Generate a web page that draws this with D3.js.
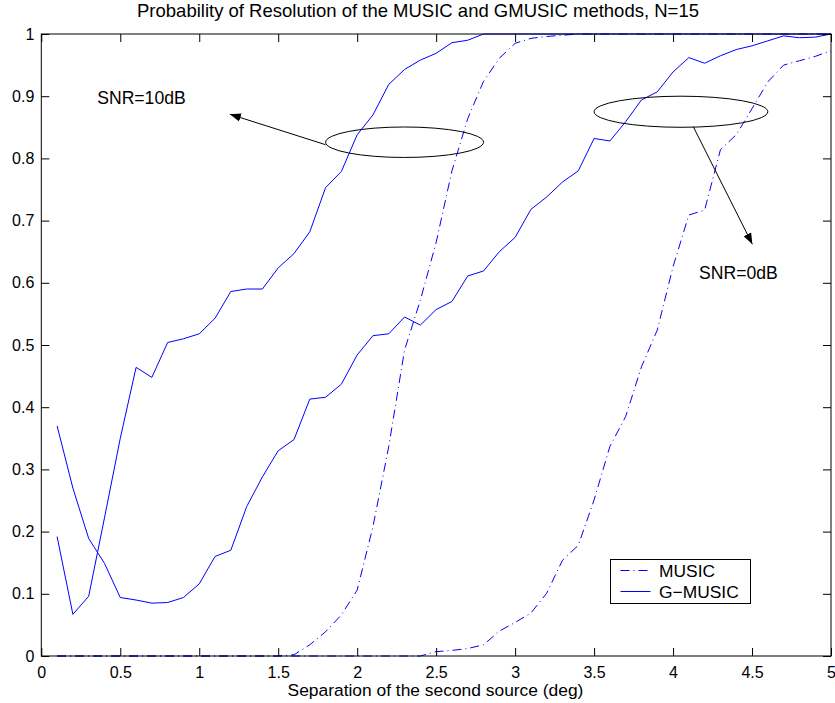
<!DOCTYPE html>
<html>
<head>
<meta charset="utf-8">
<script src="https://cdn.jsdelivr.net/npm/d3@7/dist/d3.min.js"></script>
<style>
  html, body { margin: 0; padding: 0; background: #fff; }
  svg text { font-family: "Liberation Sans", Arial, Helvetica, sans-serif; fill: #000; }
</style>
</head>
<body>
<svg id="chart" width="835" height="703"></svg>
<script>
// Source separation (deg)
const separation = [0.1,0.2,0.3,0.4,0.5,0.6,0.7,0.8,0.9,1.0,
                    1.1,1.2,1.3,1.4,1.5,1.6,1.7,1.8,1.9,2.0,
                    2.1,2.2,2.3,2.4,2.5,2.6,2.7,2.8,2.9,3.0,
                    3.1,3.2,3.3,3.4,3.5,3.6,3.7,3.8,3.9,4.0,
                    4.1,4.2,4.3,4.4,4.5,4.6,4.7,4.8,4.9,5.0];

// G-MUSIC, SNR = 10 dB
const gmusic10 = [0.192,0.067,0.096,0.222,0.350,0.464,0.448,0.504,0.510,0.518,
                  0.543,0.586,0.590,0.590,0.624,0.647,0.682,0.753,0.779,0.838,
                  0.870,0.919,0.943,0.958,0.969,0.986,0.990,1.000,1.000,1.000,
                  1.000,1.000,1.000,1.000,1.000,1.000,1.000,1.000,1.000,1.000,
                  1.000,1.000,1.000,1.000,1.000,1.000,1.000,1.000,1.000,1.000];

// G-MUSIC, SNR = 0 dB
const gmusic0 = [0.370,0.270,0.189,0.149,0.094,0.090,0.085,0.086,0.094,0.116,
                 0.160,0.170,0.240,0.288,0.330,0.348,0.413,0.416,0.437,0.484,
                 0.515,0.518,0.545,0.532,0.557,0.570,0.611,0.619,0.650,0.673,
                 0.718,0.738,0.762,0.780,0.832,0.828,0.859,0.894,0.907,0.939,
                 0.962,0.953,0.965,0.975,0.981,0.989,0.997,0.994,0.995,1.000];

// MUSIC, SNR = 10 dB
const music10 = [0,0,0,0,0,0,0,0,0,0,
                 0,0,0,0,0,0.002,0.018,0.039,0.066,0.106,
                 0.208,0.337,0.492,0.572,0.665,0.780,0.864,0.924,0.961,0.985,
                 0.993,0.996,0.998,1.000,1.000,1.000,1.000,1.000,1.000,1.000,
                 1.000,1.000,1.000,1.000,1.000,1.000,1.000,1.000,1.000,1.000];

// MUSIC, SNR = 0 dB
const music0 = [0,0,0,0,0,0,0,0,0,0,
                0,0,0,0,0,0,0,0,0,0,
                0,0,0,0,0.007,0.009,0.012,0.018,0.040,0.054,
                0.069,0.101,0.154,0.178,0.251,0.337,0.385,0.465,0.524,0.626,
                0.709,0.717,0.814,0.838,0.880,0.923,0.950,0.957,0.964,0.973];

const xTicks = [0,0.5,1,1.5,2,2.5,3,3.5,4,4.5,5];
const yTicks = [0,0.1,0.2,0.3,0.4,0.5,0.6,0.7,0.8,0.9,1];

const titleText = "Probability of Resolution of the MUSIC and GMUSIC methods, N=15";
const xLabelText = "Separation of the second source (deg)";
const legendLabels = ["MUSIC", "G\u2212MUSIC"];

// Annotation groups: ellipse around each SNR pair of curves, arrow to label
const groupNotes = [
  { label: "SNR=10dB", cx: 2.30, cy: 0.826, rx: 0.50, ry: 0.0245,
    from: [1.80, 0.822], to: [1.194, 0.871], text: [0.354, 0.887] },
  { label: "SNR=0dB",  cx: 4.05, cy: 0.875, rx: 0.55, ry: 0.025,
    from: [4.128, 0.851], to: [4.502, 0.662], text: [4.165, 0.606] }
];

const margin = { left: 41.3, right: 4, top: 34, bottom: 47 };
const W = 835, H = 703;
const svg = d3.select("#chart");

const x = d3.scaleLinear().domain([0, 5]).range([margin.left, W - margin.right]);
const y = d3.scaleLinear().domain([0, 1]).range([H - margin.bottom, margin.top]);

const blue = "#0000ff";
const dashDot = "9,4,1,4";

// Series
const series = [
  { values: music10, dash: dashDot },
  { values: music0, dash: dashDot },
  { values: gmusic10, dash: null },
  { values: gmusic0, dash: null }
];
const line = d3.line().x(d => x(d[0])).y(d => y(d[1]));
svg.append("g").selectAll("path").data(series).join("path")
  .attr("d", s => line(separation.map((v, i) => [v, s.values[i]])))
  .attr("fill", "none")
  .attr("stroke", blue)
  .attr("stroke-width", 1)
  .attr("stroke-dasharray", s => s.dash);

// Axes with inward ticks on all four sides
const tickLen = 8;
const fontTick = "16px";
const gx = svg.append("g").attr("transform", `translate(0,${y(0)})`)
  .call(d3.axisBottom(x).tickValues(xTicks).tickFormat(d3.format("~g")).tickSize(-tickLen).tickPadding(11));
const gxTop = svg.append("g").attr("transform", `translate(0,${y(1)})`)
  .call(d3.axisTop(x).tickValues(xTicks).tickFormat("").tickSize(-tickLen));
const gy = svg.append("g").attr("transform", `translate(${x(0)},0)`)
  .call(d3.axisLeft(y).tickValues(yTicks).tickFormat(d3.format("~g")).tickSize(-tickLen).tickPadding(7));
const gyRight = svg.append("g").attr("transform", `translate(${x(5)},0)`)
  .call(d3.axisRight(y).tickValues(yTicks).tickFormat("").tickSize(-tickLen));

[gx, gxTop, gy, gyRight].forEach(g => {
  g.select(".domain").remove();
  g.selectAll(".tick line").attr("stroke", "#000").attr("stroke-width", 1);
  g.selectAll("text").attr("font-size", fontTick).attr("fill", "#000")
    .style("font-family", '"Liberation Sans", Arial, sans-serif');
});

// Plot box
svg.append("rect")
  .attr("x", x(0)).attr("y", y(1))
  .attr("width", x(5) - x(0)).attr("height", y(0) - y(1))
  .attr("fill", "none").attr("stroke", "#000").attr("stroke-width", 1);

// Title and axis label
svg.append("text").attr("x", 418).attr("y", 17)
  .attr("text-anchor", "middle").attr("font-size", "18.5px").text(titleText);
svg.append("text").attr("x", 435.5).attr("y", 696)
  .attr("text-anchor", "middle").attr("font-size", "17.4px").text(xLabelText);

// Annotations
svg.append("defs").append("marker")
  .attr("id", "head").attr("viewBox", "0 0 10 10")
  .attr("refX", 10).attr("refY", 5)
  .attr("markerWidth", 11).attr("markerHeight", 11)
  .attr("markerUnits", "userSpaceOnUse")
  .attr("orient", "auto")
  .append("path").attr("d", "M0,1.2 L10,5 L0,8.8 Z").attr("fill", "#000");

const notes = svg.append("g");
groupNotes.forEach(n => {
  notes.append("ellipse")
    .attr("cx", x(n.cx)).attr("cy", y(n.cy))
    .attr("rx", x(n.cx + n.rx) - x(n.cx)).attr("ry", y(n.cy) - y(n.cy + n.ry))
    .attr("fill", "none").attr("stroke", "#000").attr("stroke-width", 1);
  notes.append("line")
    .attr("x1", x(n.from[0])).attr("y1", y(n.from[1]))
    .attr("x2", x(n.to[0])).attr("y2", y(n.to[1]))
    .attr("stroke", "#000").attr("stroke-width", 1)
    .attr("marker-end", "url(#head)");
  notes.append("text")
    .attr("x", x(n.text[0])).attr("y", y(n.text[1]))
    .attr("font-size", "17.6px").text(n.label);
});

// Legend
const lg = svg.append("g").attr("transform", "translate(610.5,559.5)");
lg.append("rect").attr("width", 140).attr("height", 44)
  .attr("fill", "#fff").attr("stroke", "#000").attr("stroke-width", 1);
const legendDash = [dashDot, null];
legendLabels.forEach((lab, i) => {
  const yy = 11 + i * 21;
  lg.append("line").attr("x1", 10).attr("x2", 40).attr("y1", yy).attr("y2", yy)
    .attr("stroke", blue).attr("stroke-width", 1)
    .attr("stroke-dasharray", legendDash[i]);
  lg.append("text").attr("x", 48.5).attr("y", yy + 6)
    .attr("font-size", "17.4px").text(lab);
});
</script>
</body>
</html>
